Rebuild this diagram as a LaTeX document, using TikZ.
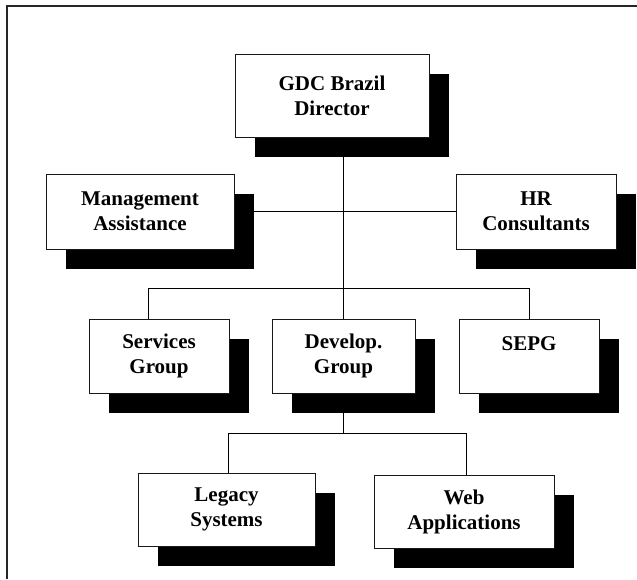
\documentclass[tikz,border=0pt]{standalone}
\usepackage{fontspec}
\setmainfont{Liberation Serif}
\usepackage{tikz}
\usetikzlibrary{shadows}

\begin{document}
\begin{tikzpicture}[x=1pt,y=1pt,
unit/.style={rectangle, draw=black!90, fill=white, line width=1pt, align=center,
  font=\fontsize{21}{25}\selectfont\bfseries, inner sep=0pt,
  drop shadow={shadow xshift=20pt, shadow yshift=-20pt, fill=black, opacity=1}},
link/.style={line width=0.9pt, color=black}]
\useasboundingbox (0,0) rectangle (637,-579);
% frame
\draw [line width=1.6pt, color=black!85] (7,-579) -- (7,-6) -- (637,-6);
\node (1) [unit, minimum width=194pt, minimum height=83pt] at (332, -95.5)  {GDC Brazil\\Director};
\node (2) [unit, minimum width=188pt, minimum height=75pt] at (140, -211.5) {Management\\Assistance};
\node (3) [unit, minimum width=160pt, minimum height=75pt] at (536, -211.5) {HR\\Consultants};
\node (4) [unit, minimum width=140pt, minimum height=74pt] at (159, -356)   {Services\\Group};
\node (5) [unit, minimum width=143pt, minimum height=74pt] at (343.5, -356) {Develop.\\Group};
\node (6) [unit, minimum width=140pt, minimum height=74pt] at (529, -356)   {SEPG\\\mbox{}};
\node (7) [unit, minimum width=177pt, minimum height=73pt] at (226.5, -509.5) {Legacy\\Systems};
\node (8) [unit, minimum width=180pt, minimum height=73pt] at (464, -511.5) {Web\\Applications};
\coordinate (bus1) at (0,-288);
\coordinate (bus2) at (0,-433);
\draw [link] (5.north) -- (5.north |- 1.south);
\draw [link] (2.east) -- (3.west);
\draw [link] ([xshift=-11pt]4.north) -- ([xshift=-11pt]4.north |- bus1) -- (6.north |- bus1) -- (6.north);
\draw [link] (5.south) -- (5.south |- bus2);
\draw [link] ([xshift=1.5pt]7.north) -- ([xshift=1.5pt]7.north |- bus2) -- ([xshift=2pt]8.north |- bus2) -- ([xshift=2pt]8.north);
\end{tikzpicture}
\end{document}
